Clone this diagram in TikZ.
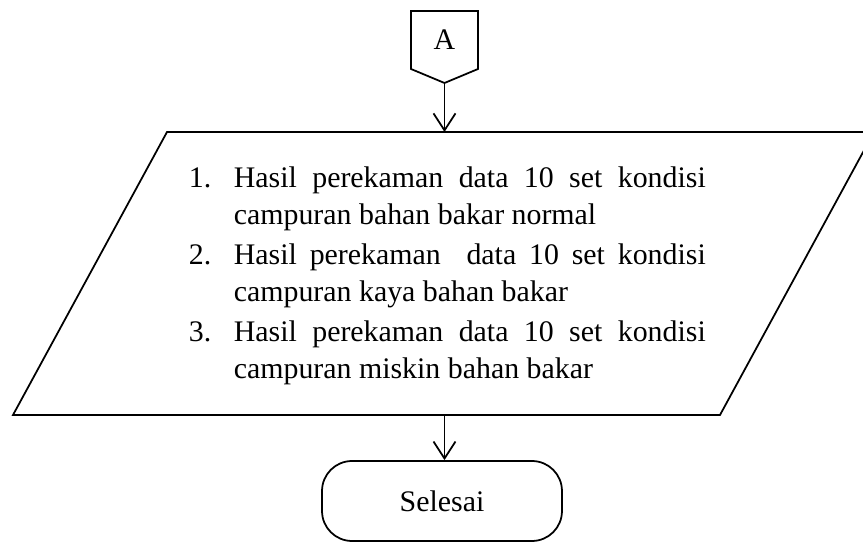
\documentclass[tikz,border=0pt]{standalone}
\usepackage{fontspec}
\setmainfont{Liberation Serif}
\usetikzlibrary{arrows.meta}
\tikzset{
	flow/.style={-{Straight Barb[length=0.34cm,width=0.44cm]}},
	terminal/.style={draw,rounded corners=0.6cm,minimum width=4.8cm,minimum height=1.6cm}
}
\begin{document}
\begin{tikzpicture}[x=0.02cm,y=-0.02cm,line width=1pt,font=\fontsize{17}{21.05}\selectfont]
	\useasboundingbox (0,0) rectangle (863,543);
	\clip (0,0) rectangle (863,543);
	\draw (411,11) -- (478,11) -- (478,69) -- (444.5,83) -- (411,69) -- cycle;
	\node (conA) at (444.5,39.5) {A};
	\coordinate (tipA) at (444.5,83);
	\draw (167,132) -- (874,132) -- (720,415) -- (13,415) -- cycle;
	\coordinate (dataTop) at (444.5,132);
	\coordinate (dataBot) at (444.5,415);
	\node [anchor=north west,inner sep=0pt,text width=10.34cm,align=justify] (list) at (188,166) {%
		\tolerance=9999\parskip=1.7pt
		\noindent\hangindent=0.9cm\hangafter=1\makebox[0.9cm][l]{1.}Hasil perekaman data 10 set kondisi campuran bahan bakar normal\par
		\noindent\hangindent=0.9cm\hangafter=1\makebox[0.9cm][l]{2.}Hasil perekaman\ \ data 10 set kondisi campuran kaya bahan bakar\par
		\noindent\hangindent=0.9cm\hangafter=1\makebox[0.9cm][l]{3.}Hasil perekaman data 10 set kondisi campuran miskin bahan bakar\par};
	\node [terminal] (stop) at (442,501) {Selesai};
	\draw [flow] (tipA) -- (dataTop);
	\draw [flow] (dataBot) -- (dataBot |- stop.north);
\end{tikzpicture}
\end{document}
